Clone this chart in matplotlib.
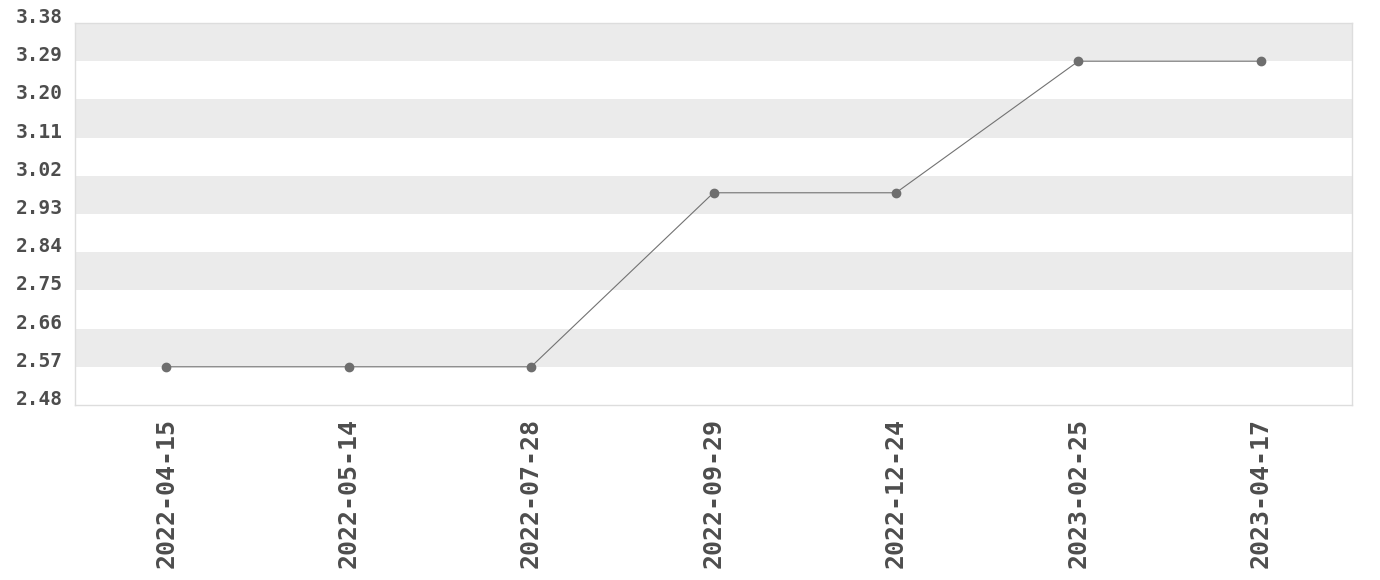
import matplotlib
matplotlib.use("Agg")
import matplotlib.pyplot as plt
import numpy as np

dates = ["2022-04-15", "2022-05-14", "2022-07-28", "2022-09-29", "2022-12-24", "2023-02-25", "2023-04-17"]
values = [2.57, 2.57, 2.57, 2.98, 2.98, 3.29, 3.29]
yticks = [2.48, 2.57, 2.66, 2.75, 2.84, 2.93, 3.02, 3.11, 3.20, 3.29, 3.38]

fig = plt.figure(figsize=(13.8, 5.8), dpi=100)
ax = fig.add_axes([75/1380, 1 - 405/580, (1352-75)/1380, (405-23)/580])

x = np.arange(len(dates))
ax.set_xlim(-0.5, len(dates) - 0.5)
ax.set_ylim(yticks[0], yticks[-1])

# alternating bands
for i in range(len(yticks) - 1):
    if (len(yticks) - 2 - i) % 2 == 0:
        ax.axhspan(yticks[i], yticks[i + 1], color="#ebebeb", lw=0, zorder=0)

ax.plot(x, values, color="#727272", lw=0.8, marker="o", ms=6,
        markerfacecolor="#6e6e6e", markeredgecolor="#6e6e6e", zorder=3)

ax.set_xticks(x)
ax.set_xticklabels(dates, rotation=90, color="#4d4d4d",
                   family="DejaVu Sans Mono", weight="bold", size=18)
ax.set_yticks(yticks)
ax.set_yticklabels([f"{v:.2f}" for v in yticks], color="#4d4d4d", va="baseline",
                   family="DejaVu Sans Mono", weight="bold", size=14)
ax.tick_params(length=0)
ax.tick_params(axis="y", pad=9)
ax.tick_params(axis="x", pad=9)
for s in ax.spines.values():
    s.set_color("#dddddd")
    s.set_linewidth(1)

fig.savefig("out.png", dpi=100)
